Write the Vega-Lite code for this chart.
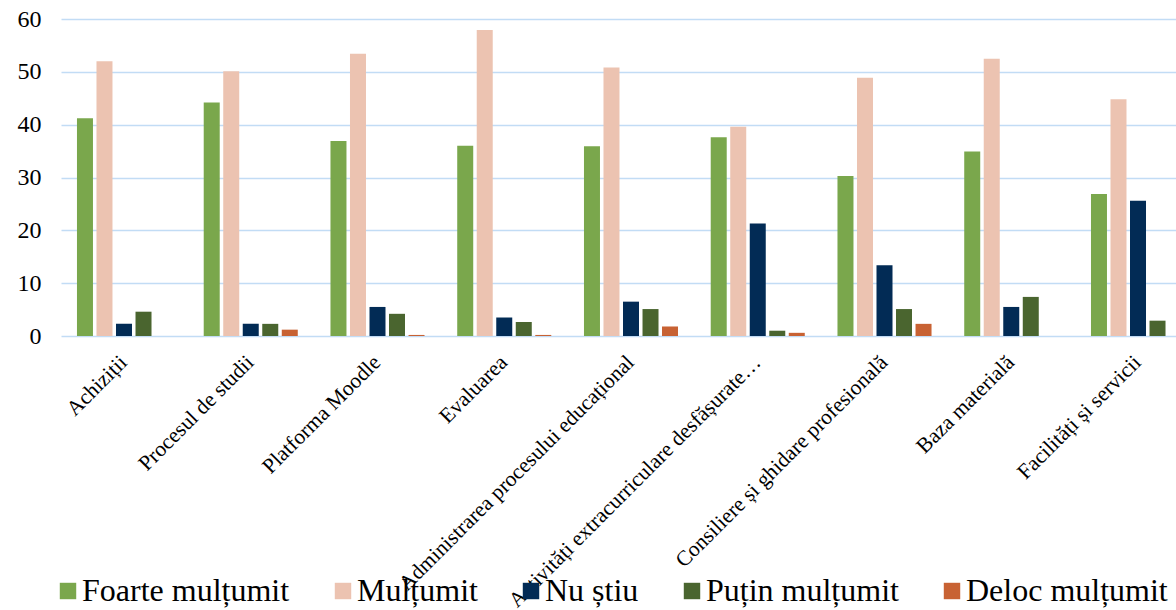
{
  "$schema": "https://vega.github.io/schema/vega-lite/v6.json",
  "autosize": {"type": "none"},
  "padding": {"left": 61, "top": 19, "right": 0, "bottom": 274},
  "width": 1115,
  "height": 317,
  "background": "white",
  "data": {
    "values": [
      {"cat": "Achiziții", "serie": "Foarte mulțumit", "val": 41.2},
      {"cat": "Achiziții", "serie": "Mulțumit", "val": 52.0},
      {"cat": "Achiziții", "serie": "Nu știu", "val": 2.3},
      {"cat": "Achiziții", "serie": "Puțin mulțumit", "val": 4.6},
      {"cat": "Achiziții", "serie": "Deloc mulțumit", "val": 0},
      {"cat": "Procesul de studii", "serie": "Foarte mulțumit", "val": 44.2},
      {"cat": "Procesul de studii", "serie": "Mulțumit", "val": 50.1},
      {"cat": "Procesul de studii", "serie": "Nu știu", "val": 2.3},
      {"cat": "Procesul de studii", "serie": "Puțin mulțumit", "val": 2.3},
      {"cat": "Procesul de studii", "serie": "Deloc mulțumit", "val": 1.2},
      {"cat": "Platforma Moodle", "serie": "Foarte mulțumit", "val": 36.9},
      {"cat": "Platforma Moodle", "serie": "Mulțumit", "val": 53.4},
      {"cat": "Platforma Moodle", "serie": "Nu știu", "val": 5.5},
      {"cat": "Platforma Moodle", "serie": "Puțin mulțumit", "val": 4.2},
      {"cat": "Platforma Moodle", "serie": "Deloc mulțumit", "val": 0.2},
      {"cat": "Evaluarea", "serie": "Foarte mulțumit", "val": 36.0},
      {"cat": "Evaluarea", "serie": "Mulțumit", "val": 57.9},
      {"cat": "Evaluarea", "serie": "Nu știu", "val": 3.5},
      {"cat": "Evaluarea", "serie": "Puțin mulțumit", "val": 2.65},
      {"cat": "Evaluarea", "serie": "Deloc mulțumit", "val": 0.2},
      {"cat": "Administrarea procesului educațional", "serie": "Foarte mulțumit", "val": 35.9},
      {"cat": "Administrarea procesului educațional", "serie": "Mulțumit", "val": 50.8},
      {"cat": "Administrarea procesului educațional", "serie": "Nu știu", "val": 6.5},
      {"cat": "Administrarea procesului educațional", "serie": "Puțin mulțumit", "val": 5.1},
      {"cat": "Administrarea procesului educațional", "serie": "Deloc mulțumit", "val": 1.8},
      {"cat": "Activități extracurriculare desfășurate…", "serie": "Foarte mulțumit", "val": 37.6},
      {"cat": "Activități extracurriculare desfășurate…", "serie": "Mulțumit", "val": 39.6},
      {"cat": "Activități extracurriculare desfășurate…", "serie": "Nu știu", "val": 21.3},
      {"cat": "Activități extracurriculare desfășurate…", "serie": "Puțin mulțumit", "val": 1.0},
      {"cat": "Activități extracurriculare desfășurate…", "serie": "Deloc mulțumit", "val": 0.6},
      {"cat": "Consiliere și ghidare profesională", "serie": "Foarte mulțumit", "val": 30.3},
      {"cat": "Consiliere și ghidare profesională", "serie": "Mulțumit", "val": 48.9},
      {"cat": "Consiliere și ghidare profesională", "serie": "Nu știu", "val": 13.4},
      {"cat": "Consiliere și ghidare profesională", "serie": "Puțin mulțumit", "val": 5.1},
      {"cat": "Consiliere și ghidare profesională", "serie": "Deloc mulțumit", "val": 2.3},
      {"cat": "Baza materială", "serie": "Foarte mulțumit", "val": 34.9},
      {"cat": "Baza materială", "serie": "Mulțumit", "val": 52.5},
      {"cat": "Baza materială", "serie": "Nu știu", "val": 5.5},
      {"cat": "Baza materială", "serie": "Puțin mulțumit", "val": 7.4},
      {"cat": "Baza materială", "serie": "Deloc mulțumit", "val": 0},
      {"cat": "Facilități și servicii", "serie": "Foarte mulțumit", "val": 26.9},
      {"cat": "Facilități și servicii", "serie": "Mulțumit", "val": 44.8},
      {"cat": "Facilități și servicii", "serie": "Nu știu", "val": 25.6},
      {"cat": "Facilități și servicii", "serie": "Puțin mulțumit", "val": 2.9},
      {"cat": "Facilități și servicii", "serie": "Deloc mulțumit", "val": 0}
    ]
  },
  "mark": {"type": "bar"},
  "encoding": {
    "x": {
      "field": "cat",
      "type": "nominal",
      "sort": null,
      "scale": {"range": [0, 1140], "paddingInner": 0.258, "paddingOuter": 0.126},
      "axis": {
        "title": null,
        "domain": false,
        "ticks": false,
        "labelAngle": -45,
        "labelAlign": "right",
        "labelBaseline": "middle",
        "labelPadding": 23,
        "labelLimit": 0,
        "labelOverlap": false,
        "labelBound": false,
        "labelFont": "Liberation Serif",
        "labelFontSize": 21.5,
        "labelColor": "#000000"
      }
    },
    "xOffset": {
      "field": "serie",
      "type": "nominal",
      "sort": ["Foarte mulțumit", "Mulțumit", "Nu știu", "Puțin mulțumit", "Deloc mulțumit"],
      "scale": {"paddingInner": 0.18, "paddingOuter": 0}
    },
    "y": {
      "field": "val",
      "type": "quantitative",
      "scale": {"domain": [0, 60], "nice": false},
      "axis": {
        "title": null,
        "values": [0, 10, 20, 30, 40, 50, 60],
        "domain": false,
        "ticks": false,
        "grid": true,
        "gridColor": "#c2dcf5",
        "gridWidth": 1.5,
        "labelPadding": 20,
        "labelFont": "Liberation Serif",
        "labelFontSize": 24,
        "labelColor": "#000000"
      }
    },
    "color": {
      "field": "serie",
      "type": "nominal",
      "scale": {
        "domain": ["Foarte mulțumit", "Mulțumit", "Nu știu", "Puțin mulțumit", "Deloc mulțumit"],
        "range": ["#7aa74c", "#ecc3b1", "#022b55", "#4a652f", "#c86233"]
      },
      "legend": {
        "title": null,
        "orient": "none",
        "legendX": -9,
        "legendY": 556,
        "direction": "horizontal",
        "columns": 5,
        "columnPadding": 37,
        "symbolType": "square",
        "symbolSize": 270,
        "symbolStrokeWidth": 0,
        "labelOffset": -2,
        "labelFont": "Liberation Serif",
        "labelFontSize": 32,
        "labelColor": "#000000",
        "labelLimit": 0
      }
    }
  },
  "config": {"view": {"stroke": null}}
}
